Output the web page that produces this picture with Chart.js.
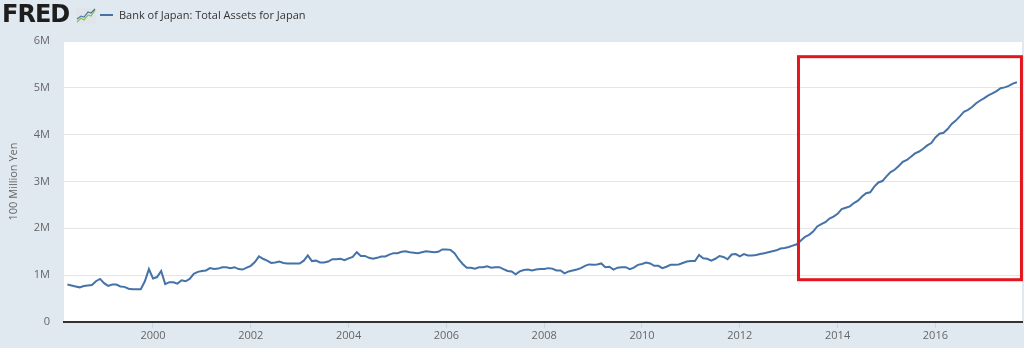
<!DOCTYPE html>
<html>
<head>
<meta charset="utf-8">
<title>Bank of Japan: Total Assets for Japan</title>
<script src="https://cdn.jsdelivr.net/npm/chart.js@4.4.1/dist/chart.umd.min.js"></script>
<style>
  html, body { margin: 0; padding: 0; background: #e1e9f0; }
  #wrap { position: relative; width: 1024px; height: 348px; overflow: hidden; font-family: "Open Sans", sans-serif; }
  #chart { position: absolute; left: 0; top: 0; }
  .logo { position: absolute; left: 2px; top: 2px; font: bold 24px/24px "DejaVu Sans", sans-serif; letter-spacing: -1px; color: #1e1e1e; }
  .icon { position: absolute; left: 76px; top: 8px; }
  .legend-line { position: absolute; left: 100px; top: 14px; width: 13px; height: 2px; background: #4572a7; }
  .legend-text { position: absolute; left: 119px; top: 7px; font-size: 11px; line-height: 15px; color: #333; white-space: nowrap; }
</style>
</head>
<body>
<div id="wrap">
  <canvas id="chart" width="1024" height="348"></canvas>
  <div class="logo">FRED</div>
  <svg class="icon" width="20" height="16" viewBox="0 0 20 16">
    <rect x="0" y="0" width="20" height="16" fill="#dfe5e8"/>
    <polyline points="1,14 5,10 8,12 12,7 15,8 19,2" fill="none" stroke="#8bbf5a" stroke-width="1.3"/>
    <polyline points="1,11 5,8 8,9 12,4 15,5 19,1" fill="none" stroke="#4572a7" stroke-width="1.1"/>
  </svg>
  <div class="legend-line"></div>
  <div class="legend-text" id="legendText"></div>
</div>
<script>
// monthly, April 1998 .. September 2017, in millions of "100 Million Yen"
const seriesLabel = 'Bank of Japan: Total Assets for Japan';
const startYear = 1998;
const startMonth = 4;
const totalAssets = [
  0.80, 0.78, 0.76, 0.74, 0.77, 0.78, 0.79, 0.87, 0.92,                     // 1998
  0.83, 0.77, 0.80, 0.80, 0.76, 0.75, 0.71, 0.70, 0.70, 0.70, 0.87, 1.13,   // 1999
  0.93, 0.96, 1.09, 0.81, 0.85, 0.85, 0.82, 0.89, 0.87, 0.92, 1.03, 1.07,   // 2000
  1.09, 1.10, 1.15, 1.13, 1.14, 1.17, 1.17, 1.15, 1.17, 1.13, 1.12, 1.16,   // 2001
  1.20, 1.28, 1.40, 1.35, 1.31, 1.26, 1.27, 1.29, 1.26, 1.25, 1.25, 1.25,   // 2002
  1.25, 1.31, 1.42, 1.30, 1.31, 1.27, 1.27, 1.29, 1.34, 1.34, 1.35, 1.32,   // 2003
  1.36, 1.39, 1.49, 1.41, 1.41, 1.37, 1.35, 1.37, 1.40, 1.40, 1.44, 1.47,   // 2004
  1.47, 1.50, 1.51, 1.49, 1.48, 1.47, 1.49, 1.51, 1.50, 1.49, 1.50, 1.55,   // 2005
  1.55, 1.54, 1.47, 1.34, 1.24, 1.16, 1.16, 1.14, 1.17, 1.17, 1.19, 1.16,   // 2006
  1.17, 1.17, 1.13, 1.09, 1.08, 1.02, 1.08, 1.11, 1.12, 1.10, 1.12, 1.13,   // 2007
  1.13, 1.15, 1.14, 1.10, 1.10, 1.04, 1.08, 1.10, 1.12, 1.15, 1.20, 1.23,   // 2008
  1.22, 1.23, 1.25, 1.17, 1.18, 1.12, 1.16, 1.17, 1.17, 1.13, 1.16, 1.22,   // 2009
  1.24, 1.27, 1.25, 1.20, 1.20, 1.15, 1.18, 1.22, 1.22, 1.23, 1.26, 1.29,   // 2010
  1.30, 1.30, 1.43, 1.36, 1.35, 1.31, 1.35, 1.41, 1.39, 1.34, 1.44, 1.45,   // 2011
  1.40, 1.45, 1.42, 1.42, 1.43, 1.45, 1.47, 1.49, 1.51, 1.53, 1.57, 1.58,   // 2012
  1.60, 1.63, 1.66, 1.74, 1.82, 1.86, 1.93, 2.04, 2.09, 2.13, 2.21, 2.25,   // 2013
  2.31, 2.41, 2.44, 2.47, 2.54, 2.59, 2.68, 2.75, 2.77, 2.89, 2.98, 3.01,   // 2014
  3.11, 3.20, 3.25, 3.33, 3.42, 3.46, 3.53, 3.60, 3.64, 3.70, 3.77, 3.82,   // 2015
  3.94, 4.02, 4.04, 4.12, 4.23, 4.30, 4.39, 4.49, 4.53, 4.59, 4.67, 4.73,   // 2016
  4.78, 4.84, 4.88, 4.93, 4.99, 5.01, 5.04, 5.09, 5.12                      // 2017
];
const xTickYears = [2000, 2002, 2004, 2006, 2008, 2010, 2012, 2014, 2016];
const yTickValues = [0, 1, 2, 3, 4, 5, 6];
const xRange = [1998.18, 2017.771];
// highlighted period (red frame), in data units
const boxYears = [2013.2, 2017.76];
const boxValues = [0.903, 5.665];

document.getElementById('legendText').textContent = seriesLabel;

const points = totalAssets.map((v, i) => ({ x: startYear + (startMonth - 1 + i) / 12, y: v }));

const axisFont = { family: '"Open Sans", sans-serif', size: 11 };

const plotBg = {
  id: 'plotBg',
  beforeDraw(chart) {
    const { ctx, chartArea: a } = chart;
    ctx.save();
    ctx.fillStyle = '#ffffff';
    ctx.fillRect(a.left, a.top, a.right - a.left, a.bottom - a.top);
    ctx.restore();
  }
};

const highlightBox = {
  id: 'highlightBox',
  afterDraw(chart) {
    const { ctx, scales } = chart;
    const l = scales.x.getPixelForValue(boxYears[0]);
    const r = scales.x.getPixelForValue(boxYears[1]);
    const t = scales.y.getPixelForValue(boxValues[1]);
    const b = scales.y.getPixelForValue(boxValues[0]);
    ctx.save();
    ctx.strokeStyle = '#e3161e';
    ctx.lineWidth = 3;
    ctx.strokeRect(l, t, r - l, b - t);
    ctx.restore();
  }
};

new Chart(document.getElementById('chart'), {
  type: 'line',
  data: {
    datasets: [{
      label: seriesLabel,
      data: points,
      borderColor: '#4572a7',
      borderWidth: 2,
      pointRadius: 0,
      tension: 0,
      fill: false
    }]
  },
  options: {
    responsive: false,
    animation: false,
    devicePixelRatio: 1,
    layout: { padding: { top: 41, right: 2, left: 0, bottom: 0 } },
    plugins: { legend: { display: false }, tooltip: { enabled: false } },
    scales: {
      x: {
        type: 'linear',
        min: xRange[0],
        max: xRange[1],
        afterFit: (s) => { s.height = 26; },
        afterBuildTicks: (s) => { s.ticks = xTickYears.map(v => ({ value: v })); },
        grid: { drawOnChartArea: false, drawTicks: true, tickLength: 6, color: '#ccd6eb' },
        border: { display: true, color: '#333333', width: 2 },
        ticks: { color: '#666666', font: axisFont, padding: 1, maxRotation: 0, autoSkip: false, callback: (v) => String(v) }
      },
      y: {
        min: 0,
        max: 6,
        afterFit: (s) => { s.width = 64; },
        afterBuildTicks: (s) => { s.ticks = yTickValues.map(v => ({ value: v })); },
        grid: { color: '#e6e6e6', drawTicks: false },
        border: { display: false },
        ticks: { color: '#666666', font: axisFont, padding: 14, callback: (v) => v === 0 ? '0' : v + 'M' },
        title: { display: true, text: '100 Million Yen', color: '#666666', font: axisFont, padding: { top: 7, bottom: 0 } }
      }
    }
  },
  plugins: [plotBg, highlightBox]
});
</script>
</body>
</html>
